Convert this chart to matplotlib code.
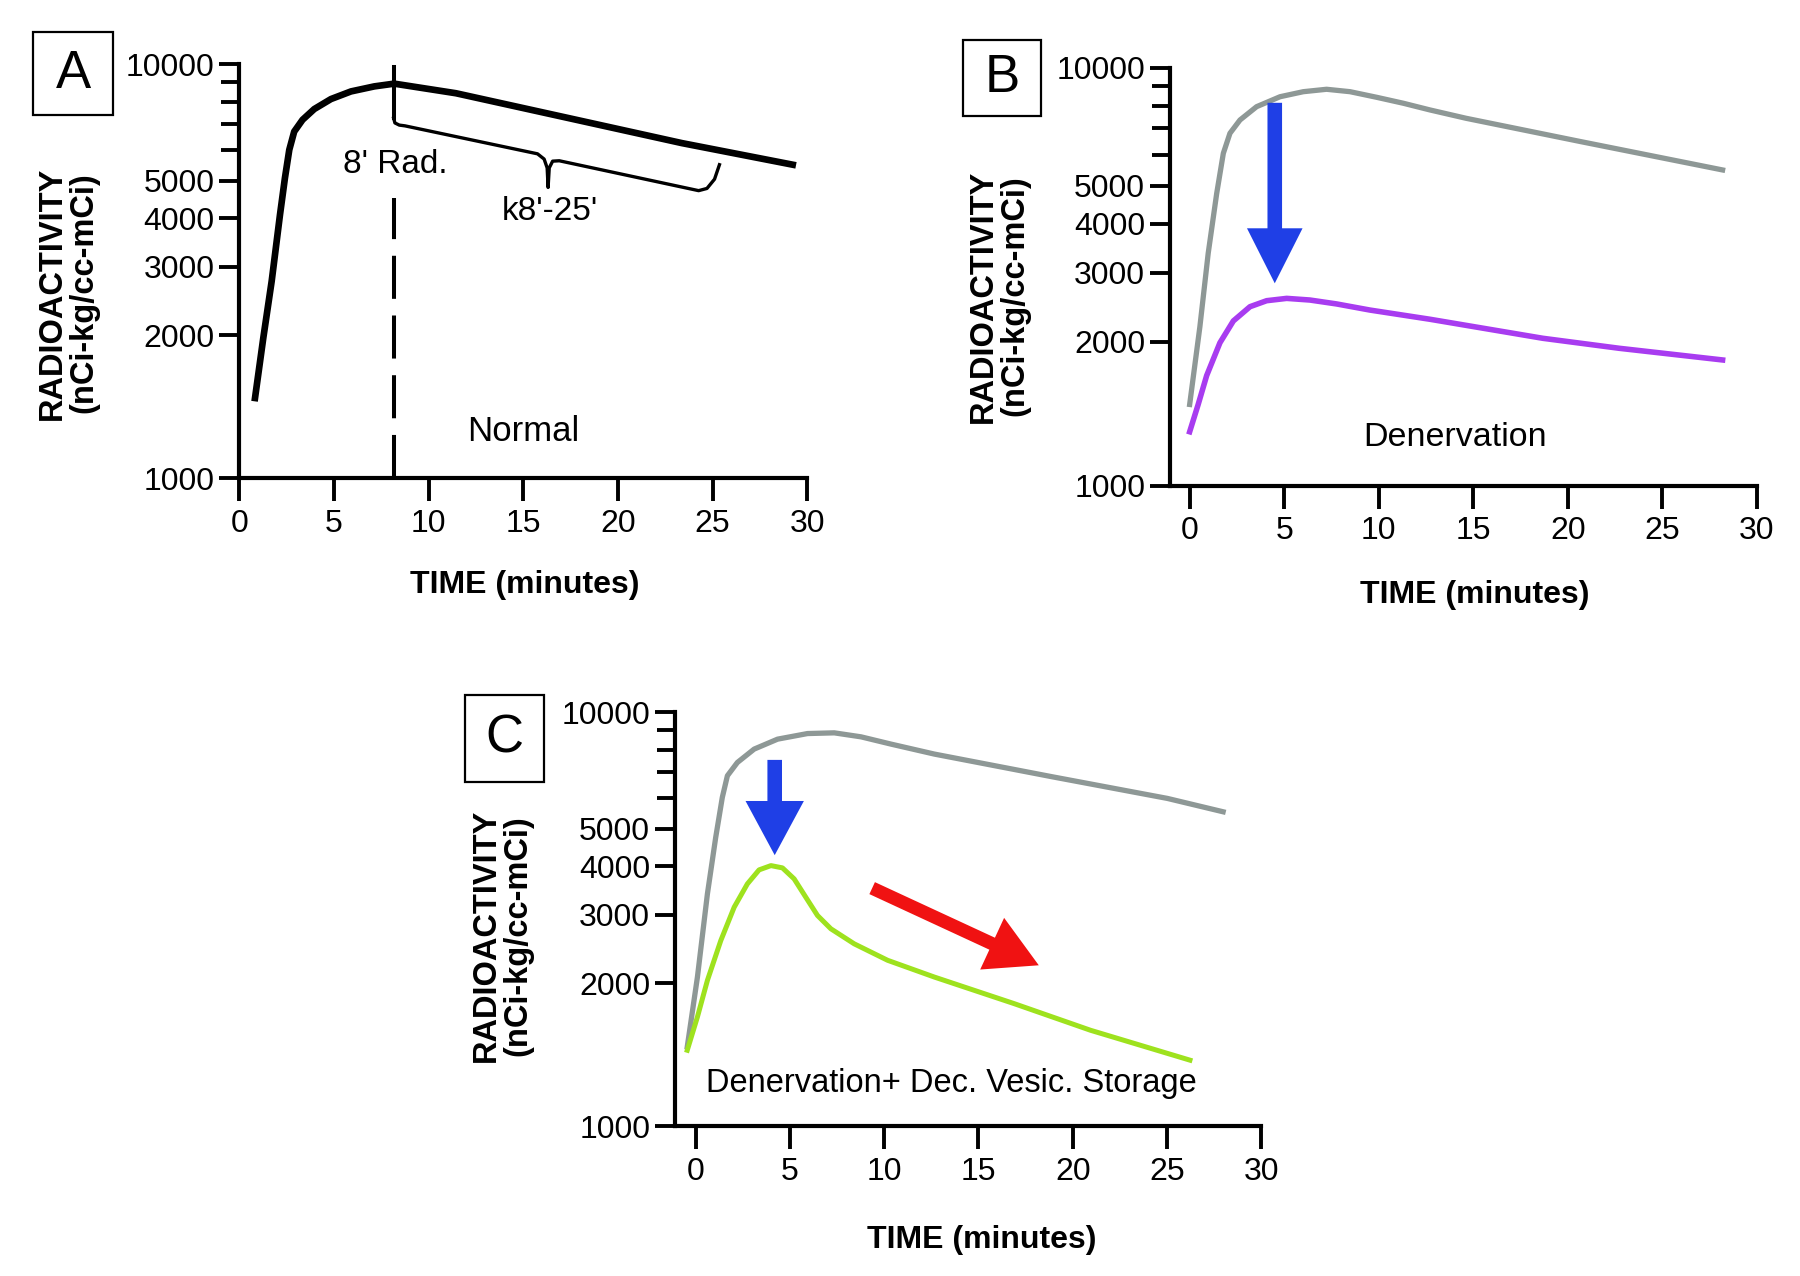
import numpy as np
import matplotlib
matplotlib.use('Agg')
import matplotlib.pyplot as plt
from matplotlib.patches import Rectangle
from matplotlib.ticker import FixedLocator, FixedFormatter, NullFormatter

plt.rcParams['font.family'] = ['Liberation Sans', 'DejaVu Sans']

# ---- data (time in minutes, activity in nCi-kg/cc-mCi)
# panel A: normal
a_time = [0.83, 1.27, 1.71, 2.15, 2.41, 2.64, 2.90, 3.34, 3.96, 4.84, 5.90, 7.13, 8.18, 11.44, 17.40, 23.37, 29.23]
a_act = [1475, 1978, 2758, 4093, 5085, 6011, 6698, 7183, 7656, 8122, 8499, 8756, 8900, 8408, 7254, 6256, 5503]

# panel B: normal (grey) and denervation (purple)
b_time_ctrl = [0, 0.54, 0.98, 1.43, 1.78, 2.13, 2.66, 3.54, 4.78, 6.01, 7.24, 8.48, 9.89, 11.30,
               12.71, 14.62, 20.69, 28.18]
b_ctrl = [1479, 2184, 3362, 4781, 6048, 6803, 7355, 7954, 8433, 8686, 8810, 8686, 8404, 8115,
          7802, 7429, 6477, 5485]
b_time_den = [0, 0.45, 0.90, 1.60, 2.31, 3.19, 4.07, 5.13, 6.36, 7.77, 9.53, 12.71, 18.67, 22.71, 28.18]
b_den = [1297, 1479, 1700, 1990, 2260, 2457, 2545, 2580, 2555, 2497, 2409, 2282, 2041, 1938, 1832]

# panel C: normal (grey) and denervation + decreased vesicular storage (green)
c_time_ctrl = [-0.45, 0.09, 0.62, 1.06, 1.41, 1.68, 2.21, 3.10, 4.34, 5.93, 7.35, 8.77, 10.36, 12.66,
               18.92, 25.02, 27.98]
c_ctrl = [1469, 2076, 3401, 4754, 6026, 6852, 7413, 8025, 8512, 8800, 8837, 8630, 8266, 7791,
          6809, 5990, 5533]
c_time_den = [-0.45, 0.09, 0.62, 1.33, 2.04, 2.74, 3.36, 3.99, 4.60, 5.22, 5.84, 6.46, 7.17, 8.41,
              10.18, 12.66, 16.88, 20.95, 26.22]
c_den = [1445, 1699, 2036, 2578, 3142, 3608, 3920, 4021, 3967, 3717, 3333, 2991, 2764, 2528,
         2293, 2076, 1813, 1592, 1377]

# annotations
rad_time = 8.15
brace_t = [8.15, 8.22, 8.45, 8.75, 15.75, 16.10, 16.26, 16.31, 16.37, 16.55, 16.90, 24.26, 24.70, 25.10, 25.36]
brace_v = [7254, 7050, 6960, 6929, 5870, 5690, 5400, 4809, 5400, 5620, 5633, 4718, 4780, 5050, 5503]

x_ticks = [0, 5, 10, 15, 20, 25, 30]
y_ticks = [1000, 2000, 3000, 4000, 5000, 10000]
y_labels = ['1000', '2000', '3000', '4000', '5000', '10000']
y_minor = [6000, 7000, 8000, 9000]

GREY = '#8e9896'
PURPLE = '#a83cf0'
GREEN = '#9ee21e'
BLUE = '#1f3fe6'
RED = '#f01212'

# log axis with the 1000-2000 decade drawn a bit taller (as in the figure)
L2 = np.log10(2000.)
LOW, HIGH = 143., 272.


def fwd(v):
    u = np.log10(np.clip(np.asarray(v, float), 1e-9, None))
    return np.where(u <= L2, (u - 3) / (L2 - 3) * LOW, LOW + (u - L2) / (4 - L2) * HIGH)


def inv(f):
    f = np.asarray(f, float)
    u = np.where(f <= LOW, 3 + f / LOW * (L2 - 3), L2 + (f - LOW) / HIGH * (4 - L2))
    return 10 ** u


W, H = 1800., 1276.
fig = plt.figure(figsize=(18, 12.76), dpi=100)


def px_axes(left, right, top, bottom):
    return fig.add_axes([left / W, 1 - bottom / H, (right - left) / W, (bottom - top) / H])


def setup(ax, xlo):
    ax.set_yscale('function', functions=(fwd, inv))
    ax.set_xlim(xlo, 30)
    ax.set_ylim(1000, 10000)
    ax.spines[['top', 'right']].set_visible(False)
    for s in ['left', 'bottom']:
        ax.spines[s].set_linewidth(3)
    ax.set_xticks(x_ticks)
    ax.yaxis.set_major_locator(FixedLocator(y_ticks))
    ax.yaxis.set_major_formatter(FixedFormatter(y_labels))
    ax.yaxis.set_minor_locator(FixedLocator(y_minor))
    ax.yaxis.set_minor_formatter(NullFormatter())
    ax.tick_params(axis='y', which='major', length=14.4, width=2.8, pad=3.5, labelsize=23)
    ax.tick_params(axis='y', which='minor', length=13, width=2.8)
    ax.tick_params(axis='x', length=16.5, width=2.8, pad=5.5, labelsize=23)
    ax.patch.set_alpha(0)


def labels(ylab_xy, xlab_xy):
    fig.text(ylab_xy[0] / W, 1 - ylab_xy[1] / H, 'RADIOACTIVITY\n(nCi-kg/cc-mCi)',
             rotation=90, ha='center', va='center', fontsize=23.5, fontweight='bold',
             linespacing=1.0, multialignment='center')
    fig.text(xlab_xy[0] / W, 1 - xlab_xy[1] / H, 'TIME (minutes)',
             ha='center', va='center', fontsize=23, fontweight='bold')


def letter(txt, x0, y0, x1, y1):
    fig.patches.append(Rectangle((x0 / W, 1 - y1 / H), (x1 - x0) / W, (y1 - y0) / H,
                                 transform=fig.transFigure, fill=False, lw=1.6, ec='black'))
    fig.text((x0 + x1) / 2 / W, 1 - (y0 + y1) / 2 / H, txt, ha='center', va='center', fontsize=38)


def arrow(ax, xy, xytext, color, tail, hw, hl):
    ax.annotate('', xy=xy, xytext=xytext,
                arrowprops=dict(arrowstyle='simple,head_length=%g,head_width=%g,tail_width=%g' % (hl, hw, tail),
                                mutation_scale=1, color=color, shrinkA=0, shrinkB=0, lw=0))


# ---------------- panel A
axA = px_axes(239.3, 807.3, 64, 478)
setup(axA, 0)
axA.plot(a_time, a_act, color='black', lw=4.8, solid_joinstyle='round', clip_on=False)
axA.plot([rad_time, rad_time], [1000, 4527], color='black', lw=2.9,
         linestyle=(0, (31 / 2.9, 12 / 2.9)), clip_on=False)
axA.plot([rad_time, rad_time], [7254, 9842], color='black', lw=2.9)
axA.plot(brace_t, brace_v, color='black', lw=2.4, solid_joinstyle='round')
axA.text(8.26, 5503, "8' Rad.", ha='center', va='center', fontsize=24)
axA.text(16.41, 4175, "k8'-25'", ha='center', va='center', fontsize=24)
axA.text(15.02, 1254, 'Normal', ha='center', va='center', fontsize=25)
labels((68, 293), (524.6, 585.5))
letter('A', 33, 32, 113, 115)

# ---------------- panel B
axB = px_axes(1170, 1757, 67.7, 485.8)
setup(axB, -1.04)
axB.plot(b_time_ctrl, b_ctrl, color=GREY, lw=3.8, solid_joinstyle='round', clip_on=False)
axB.plot(b_time_den, b_den, color=PURPLE, lw=4.0, solid_joinstyle='round', clip_on=False)
arrow(axB, (4.5, 2819), (4.5, 8137), BLUE, 10.5, 40, 39.6)
axB.text(14.01, 1262, 'Denervation', ha='center', va='center', fontsize=24.5)
labels((999, 296), (1475, 594.7))
letter('B', 963, 40, 1041, 116)

# ---------------- panel C
axC = px_axes(675, 1261.2, 712, 1126)
setup(axC, -1.1)
axC.plot(c_time_ctrl, c_ctrl, color=GREY, lw=3.8, solid_joinstyle='round', clip_on=False)
axC.plot(c_time_den, c_den, color=GREEN, lw=3.6, solid_joinstyle='round', clip_on=False)
arrow(axC, (4.19, 4278), (4.19, 7527), BLUE, 10.5, 42, 39)
arrow(axC, (18.20, 2226), (9.36, 3518), RED, 9.5, 41, 37)
axC.text(13.57, 1230, 'Denervation+ Dec. Vesic. Storage', ha='center', va='center', fontsize=23.5)
labels((502, 935.6), (981.5, 1239.8))
letter('C', 465, 695, 544, 782)

fig.savefig('out.png', dpi=100, facecolor='white')
